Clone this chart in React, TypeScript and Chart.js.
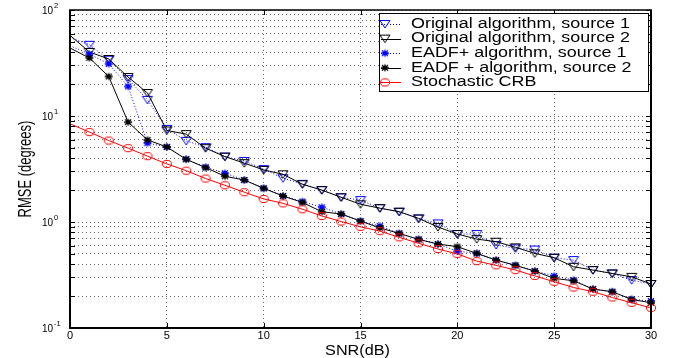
import React, { useEffect, useRef } from 'react';
import { Chart, registerables } from 'chart.js';

Chart.register(...registerables);

// ---- data ----
const snr = [0, 1, 2, 3, 4, 5, 6, 7, 8, 9, 10, 11, 12, 13, 14, 15, 16, 17, 18, 19, 20, 21, 22, 23, 24, 25, 26, 27, 28, 29, 30];

const originalSource1 = [55, 47, 34, 22.3, 14.2, 7.57, 5.83, 5.08, 4.14, 3.77, 3.15, 2.59, 2.29, 2.0, 1.71, 1.61, 1.35, 1.25, 1.08, 0.97, 0.77, 0.77, 0.607, 0.564, 0.55, 0.46, 0.437, 0.352, 0.327, 0.283, 0.26];
const originalSource2 = [57.7, 40.2, 34.5, 23.3, 16.5, 7.3, 6.75, 4.97, 4.14, 3.59, 3.1, 2.82, 2.27, 2.0, 1.71, 1.47, 1.35, 1.25, 1.08, 0.897, 0.77, 0.69, 0.652, 0.577, 0.506, 0.46, 0.378, 0.352, 0.327, 0.304, 0.26];
const eadfSource1 = [46, 38.5, 31, 19, 5.55, 5.12, 3.92, 3.29, 2.89, 2.49, 2.08, 1.76, 1.56, 1.38, 1.19, 1.02, 0.917, 0.78, 0.686, 0.62, 0.53, 0.506, 0.437, 0.39, 0.344, 0.31, 0.283, 0.233, 0.22, 0.186, 0.18];
const eadfSource2 = [43.8, 35.3, 23.6, 8.75, 5.96, 5.1, 3.9, 3.26, 2.7, 2.49, 2.08, 1.76, 1.53, 1.25, 1.19, 1.02, 0.88, 0.78, 0.686, 0.62, 0.585, 0.506, 0.437, 0.39, 0.344, 0.294, 0.279, 0.233, 0.22, 0.186, 0.173];
const stochasticCrb = [8.44, 7.05, 5.87, 4.97, 4.18, 3.53, 3.05, 2.57, 2.22, 1.91, 1.65, 1.5, 1.32, 1.14, 1.01, 0.9, 0.82, 0.717, 0.63, 0.556, 0.5, 0.428, 0.39, 0.352, 0.31, 0.273, 0.241, 0.22, 0.194, 0.173, 0.155];

const seriesLabels = [
  'Original algorithm, source 1',
  'Original algorithm, source 2',
  'EADF+ algorithm, source 1',
  'EADF + algorithm, source 2',
  'Stochastic CRB',
];

const xTickValues = [0, 5, 10, 15, 20, 25, 30];
const yDecadeExponents = [-1, 0, 1, 2];
const yMinorMultipliers = [1, 2, 3, 4, 5, 6, 7, 8, 9];
const xTitle = 'SNR(dB)';
const yTitle = 'RMSE (degrees)';

const FONT = '"Liberation Sans", Arial, Helvetica, sans-serif';

function makeMarker(kind: string, color: string): HTMLCanvasElement {
  const c = document.createElement('canvas');
  c.width = 12;
  c.height = 10;
  const g = c.getContext('2d')!;
  g.strokeStyle = color;
  g.lineWidth = 1;
  g.beginPath();
  if (kind === 'tri') {
    g.moveTo(1, 1.5);
    g.lineTo(11, 1.5);
    g.lineTo(6, 9);
    g.closePath();
  } else if (kind === 'circle') {
    g.ellipse(6, 5, 4.5, 3.6, 0, 0, Math.PI * 2);
  } else {
    g.lineWidth = 1.3;
    g.moveTo(2, 5); g.lineTo(10, 5);
    g.moveTo(6, 1.5); g.lineTo(6, 8.5);
    g.moveTo(3, 2.2); g.lineTo(9, 7.8);
    g.moveTo(9, 2.2); g.lineTo(3, 7.8);
  }
  g.stroke();
  return c;
}

export default function App() {
  const ref = useRef<HTMLCanvasElement | null>(null);

  useEffect(() => {
    const canvas = ref.current!;
    const yGrid: number[] = [];
    for (const e of yDecadeExponents.slice(0, -1)) {
      for (const m of yMinorMultipliers) yGrid.push(+(m * Math.pow(10, e)).toPrecision(3));
    }
    yGrid.push(Math.pow(10, yDecadeExponents[yDecadeExponents.length - 1]));

    const markers = {
      triBlue: makeMarker('tri', '#0000ff'),
      triBlack: makeMarker('tri', '#000000'),
      starBlue: makeMarker('star', '#0000ff'),
      starBlack: makeMarker('star', '#000000'),
      circleRed: makeMarker('circle', '#ff0000'),
    };
    const radii = snr.map((_, i) => (i === 0 ? 0 : 4));
    const pts = (vals: number[]) => snr.map((x, i) => ({ x, y: vals[i] }));

    const styles = [
      { color: '#0000ff', dash: [1, 2], marker: markers.triBlue },
      { color: '#000000', dash: [], marker: markers.triBlack },
      { color: '#0000ff', dash: [1, 2], marker: markers.starBlue },
      { color: '#000000', dash: [], marker: markers.starBlack },
      { color: '#ff0000', dash: [], marker: markers.circleRed },
    ];
    const values = [originalSource1, originalSource2, eadfSource1, eadfSource2, stochasticCrb];

    const datasets = values.map((v, i) => ({
      label: seriesLabels[i],
      data: pts(v),
      borderColor: styles[i].color,
      backgroundColor: 'transparent',
      borderWidth: 1,
      borderDash: styles[i].dash,
      pointStyle: styles[i].marker,
      pointRadius: radii,
      pointHoverRadius: radii,
      tension: 0,
      fill: false,
      clip: false as any,
      order: 5 - i,
    }));

    const decor = {
      id: 'decor',
      afterDraw(chart: any) {
        const { ctx, chartArea: a, scales } = chart;
        const xs = scales.x;
        const ys = scales.y;
        ctx.save();
        ctx.setLineDash([]);
        ctx.strokeStyle = '#000';
        ctx.lineWidth = 1;
        const seg = (x1: number, y1: number, x2: number, y2: number) => {
          ctx.beginPath();
          ctx.moveTo(x1, y1);
          ctx.lineTo(x2, y2);
          ctx.stroke();
        };
        // inward tick marks
        for (const v of xTickValues) {
          const px = Math.round(xs.getPixelForValue(v)) + 0.5;
          seg(px, a.bottom, px, a.bottom - 5);
          seg(px, a.top, px, a.top + 5);
        }
        for (const v of yGrid) {
          const py = Math.round(ys.getPixelForValue(v)) + 0.5;
          seg(a.left, py, a.left + 5, py);
          seg(a.right, py, a.right - 5, py);
        }
        // axes box
        ctx.lineWidth = 2;
        seg(a.left, a.top, a.left, a.bottom + 1);
        seg(a.left - 1, a.bottom, a.right + 1, a.bottom);
        seg(a.right, a.top, a.right, a.bottom + 1);
        ctx.lineWidth = 1.5;
        seg(a.left - 1, a.top, a.right + 1, a.top);

        // y tick labels 10^n
        ctx.fillStyle = '#000';
        for (const e of yDecadeExponents) {
          const py = ys.getPixelForValue(Math.pow(10, e));
          ctx.font = `10px ${FONT}`;
          ctx.textAlign = 'right';
          ctx.textBaseline = 'middle';
          ctx.fillText('10', a.left - 17, py + 1);
          ctx.font = `7.5px ${FONT}`;
          ctx.textAlign = 'left';
          ctx.fillText(String(e), a.left - 16, py - 4);
        }

        // axis titles
        ctx.save();
        ctx.translate(26, (a.top + a.bottom) / 2);
        ctx.scale(1.4, 1);
        ctx.rotate(-Math.PI / 2);
        ctx.font = `13px ${FONT}`;
        ctx.textAlign = 'center';
        ctx.textBaseline = 'middle';
        ctx.fillText(yTitle, 0, 0);
        ctx.restore();

        ctx.save();
        ctx.translate((a.left + a.right) / 2 - 3, 355);
        ctx.scale(1.08, 1);
        ctx.font = `15px ${FONT}`;
        ctx.textAlign = 'center';
        ctx.textBaseline = 'alphabetic';
        ctx.fillText(xTitle, 0, 0);
        ctx.restore();

        // legend box
        const bx = 379, by = 13, bw = 269, bh = 78;
        ctx.fillStyle = '#fff';
        ctx.fillRect(bx, by, bw, bh);
        ctx.strokeStyle = '#000';
        ctx.lineWidth = 1;
        ctx.strokeRect(bx + 0.5, by + 0.5, bw, bh);
        ctx.font = `14px ${FONT}`;
        const sx = 219 / ctx.measureText(seriesLabels[0]).width;
        seriesLabels.forEach((label, i) => {
          const ry = 24 + i * 14.6;
          const st = styles[i];
          ctx.strokeStyle = st.color;
          ctx.setLineDash(st.dash);
          ctx.beginPath();
          ctx.moveTo(381, Math.round(ry) + 0.5);
          ctx.lineTo(401, Math.round(ry) + 0.5);
          ctx.stroke();
          ctx.setLineDash([]);
          ctx.drawImage(st.marker, 385 - st.marker.width / 2, ry - st.marker.height / 2);
          ctx.save();
          ctx.translate(411, ry);
          ctx.scale(sx, 1);
          ctx.fillStyle = '#000';
          ctx.textAlign = 'left';
          ctx.textBaseline = 'middle';
          ctx.fillText(label, 0, 0);
          ctx.restore();
        });
        ctx.restore();
      },
    };

    const chart = new Chart(canvas, {
      type: 'line',
      data: { datasets: datasets as any },
      options: {
        responsive: false,
        animation: false,
        devicePixelRatio: 1,
        events: [],
        layout: { padding: { left: 0, right: 31, top: 10, bottom: 0 } },
        plugins: { legend: { display: false }, tooltip: { enabled: false } },
        scales: {
          x: {
            type: 'linear',
            min: 0,
            max: 30,
            afterBuildTicks: (s: any) => {
              s.ticks = xTickValues.map((v) => ({ value: v }));
            },
            afterFit: (s: any) => {
              s.height = 30;
            },
            ticks: {
              color: '#000',
              font: { family: FONT, size: 11 },
              padding: 1,
              maxRotation: 0,
              autoSkip: false,
            },
            grid: { color: 'rgba(0,0,0,0.6)', lineWidth: 1, drawTicks: false },
            border: { display: false, dash: [1, 3] },
          },
          y: {
            type: 'logarithmic',
            min: 0.1,
            max: 100,
            afterBuildTicks: (s: any) => {
              s.ticks = yGrid.map((v) => ({ value: v }));
            },
            afterFit: (s: any) => {
              s.width = 70;
            },
            ticks: { display: false, autoSkip: false },
            grid: { color: 'rgba(0,0,0,0.6)', lineWidth: 1, drawTicks: false },
            border: { display: false, dash: [1, 3] },
          },
        },
      },
      plugins: [decor],
    });

    return () => chart.destroy();
  }, []);

  return (
    <div style={{ position: 'absolute', left: 0, top: 0, width: 682, height: 358, background: '#fff' }}>
      <canvas ref={ref} width={682} height={358} style={{ display: 'block', width: 682, height: 358 }} />
    </div>
  );
}
